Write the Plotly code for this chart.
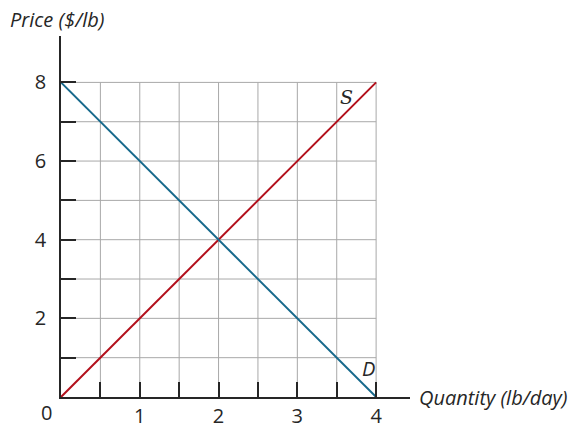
import plotly.graph_objects as go

# Data
supply_q = [0, 4]
supply_p = [0, 8]
demand_q = [0, 4]
demand_p = [8, 0]
x_tick_vals = [0.5, 1, 1.5, 2, 2.5, 3, 3.5, 4]
x_tick_text = ["", "1", "", "2", "", "3", "", "4"]
y_tick_vals = [1, 2, 3, 4, 5, 6, 7, 8]
y_tick_text = ["", "2", "", "4", "", "6", "", "8"]
grid_x = [0.5, 1, 1.5, 2, 2.5, 3, 3.5, 4]
grid_y = [1, 2, 3, 4, 5, 6, 7, 8]

FONT = "Open Sans"
FS = 20
TXT = "#262626"

fig = go.Figure()

shapes = []
for gx in grid_x:
    shapes.append(dict(type="line", xref="x", yref="y", x0=gx, x1=gx, y0=0, y1=8,
                       line=dict(color="#a8a8a8", width=1), layer="below"))
for gy in grid_y:
    shapes.append(dict(type="line", xref="x", yref="y", x0=0, x1=4, y0=gy, y1=gy,
                       line=dict(color="#a8a8a8", width=1), layer="below"))

fig.add_trace(go.Scatter(x=supply_q, y=supply_p, mode="lines",
                         line=dict(color="#b3101c", width=2), showlegend=False))
fig.add_trace(go.Scatter(x=demand_q, y=demand_p, mode="lines",
                         line=dict(color="#17698c", width=2), showlegend=False))

fig.update_layout(
    width=574, height=441,
    margin=dict(l=61, r=164, t=36, b=29),
    plot_bgcolor="white", paper_bgcolor="white",
    font=dict(family=FONT, size=FS, color=TXT),
    shapes=shapes,
    xaxis=dict(range=[0, 4.43], showgrid=False, zeroline=False,
               showline=True, linecolor=TXT, linewidth=1.5,
               tickmode="array", tickvals=x_tick_vals, ticktext=x_tick_text,
               ticks="inside", ticklen=15, tickwidth=1.5, tickcolor=TXT,
               ticklabelstandoff=0,
               tickfont=dict(family=FONT, size=FS, color=TXT)),
    yaxis=dict(range=[0, 9.18], showgrid=False, zeroline=False,
               showline=True, linecolor=TXT, linewidth=1.5,
               tickmode="array", tickvals=y_tick_vals, ticktext=y_tick_text,
               ticks="inside", ticklen=15, tickwidth=1.5, tickcolor=TXT,
               ticklabelstandoff=9,
               tickfont=dict(family=FONT, size=FS, color=TXT)),
    annotations=[
        dict(text="<i>Price ($/lb)</i>", xref="paper", yref="paper", x=-0.152, y=1.046,
             xanchor="left", yanchor="middle", showarrow=False,
             font=dict(family=FONT, size=FS, color=TXT)),
        dict(text="<i>Quantity (lb/day)</i>", xref="paper", yref="y", x=1.0, y=0,
             xshift=7, xanchor="left", yanchor="middle", showarrow=False,
             font=dict(family=FONT, size=FS, color=TXT)),
        dict(text="0", xref="x", yref="paper", x=0, y=0, xshift=-15, yshift=0,
             xanchor="center", yanchor="top", showarrow=False,
             font=dict(family=FONT, size=FS, color=TXT)),
        dict(text="<i>S</i>", xref="x", yref="y", x=3.63, y=7.62, showarrow=False,
             font=dict(family="DejaVu Serif", size=FS - 1, color=TXT)),
        dict(text="<i>D</i>", xref="x", yref="y", x=3.9, y=0.73, showarrow=False,
             font=dict(family=FONT, size=FS, color=TXT)),
    ],
)

fig.write_html(
    "out.html",
    config={"displayModeBar": False},
    post_script="document.body.style.margin='0';document.body.style.overflow='hidden';",
)
